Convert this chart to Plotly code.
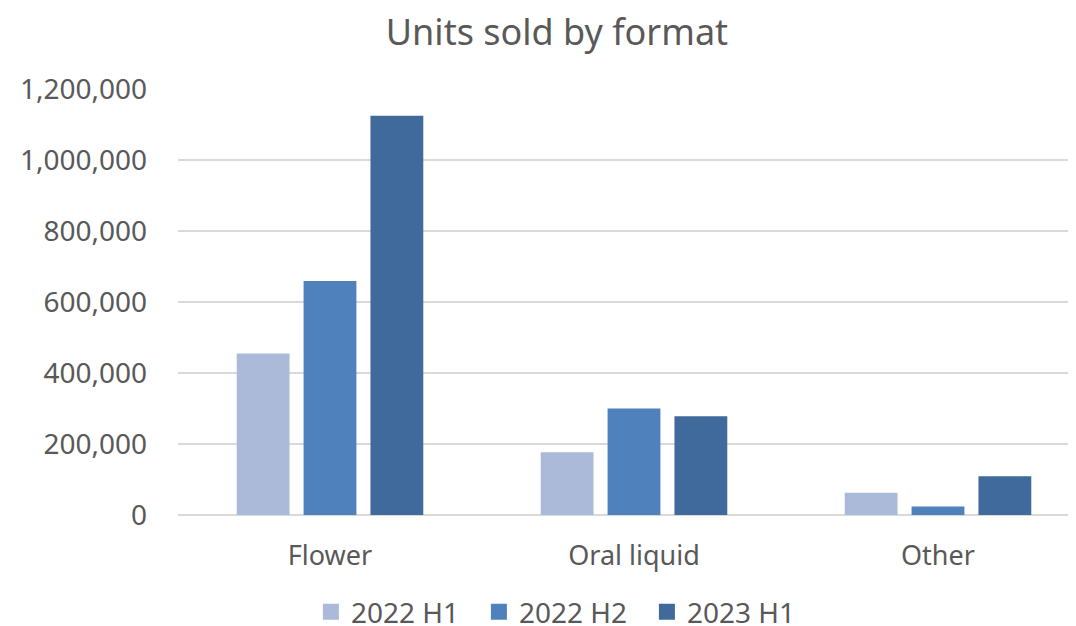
import plotly.graph_objects as go

# data
formats = ["Flower", "Oral liquid", "Other"]
h1_2022 = [455000, 177000, 63000]
h2_2022 = [659000, 300000, 24000]
h1_2023 = [1125000, 278000, 109000]

series = [
    ("2022 H1", h1_2022, "#ABBAD8"),
    ("2022 H2", h2_2022, "#4F81BD"),
    ("2023 H1", h1_2023, "#3F6A9B"),
]

font_family = "Noto Sans, Open Sans, sans-serif"
grey = "#595959"

fig = go.Figure()
for name, vals, color in series:
    fig.add_trace(go.Bar(x=formats, y=vals, name=name, marker_color=color,
                         marker_line_width=0, showlegend=False))
# legend entries with bigger square swatches
for name, vals, color in series:
    fig.add_trace(go.Scatter(x=[None], y=[None], mode="markers", name=name,
                             marker=dict(symbol="square", size=16, color=color)))

# the page body adds an 8px offset, so the figure is drawn 8px smaller
fig.update_layout(
    width=1068, height=618,
    margin=dict(l=170, r=0, t=81, b=111, autoexpand=False),
    paper_bgcolor="white", plot_bgcolor="white",
    font=dict(family=font_family, color=grey, size=27),
    title=dict(text="Units sold by format", x=0.514, xref="container", xanchor="center",
               y=0.961, yref="container", yanchor="middle",
               font=dict(size=36, color=grey, family=font_family)),
    barmode="group", bargap=0.34, bargroupgap=0.21,
    legend=dict(orientation="h", x=0.148, xanchor="left",
                y=-0.228, yanchor="middle",
                font=dict(size=28, color=grey),
                traceorder="normal", itemwidth=30,
                entrywidth=123, entrywidthmode="pixels"),
    showlegend=True,
)

fig.update_xaxes(range=[-0.5, 2.454], showgrid=False, showline=False,
                 ticks="", ticklabelstandoff=22, tickfont=dict(size=27))
fig.update_yaxes(range=[0, 1200000], dtick=200000, tickformat=",d",
                 showgrid=True, gridcolor="#D9D9D9", gridwidth=1.5,
                 zeroline=True, zerolinecolor="#D9D9D9", zerolinewidth=2,
                 showline=False, ticks="", ticklabelstandoff=30,
                 tickfont=dict(size=28))

fig.write_html("out.html")
